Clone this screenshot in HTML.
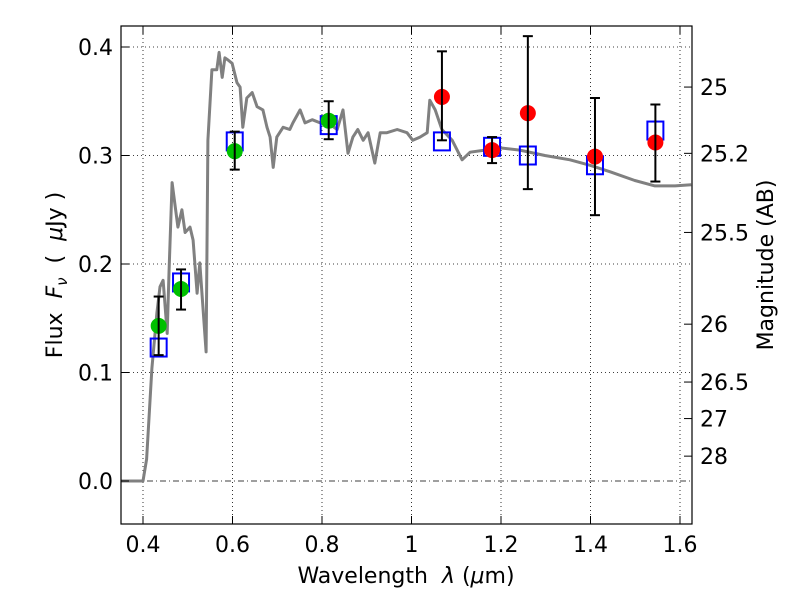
<!DOCTYPE html>
<html><head><meta charset="utf-8"><style>
html,body{margin:0;padding:0;background:#fff}
svg text{font-family:"DejaVu Sans","Liberation Sans",sans-serif;fill:#000}
</style></head><body>
<svg id="chart" width="800" height="600" viewBox="0 0 800 600">
<g id="grid"></g>
<g id="spec"></g>
<g id="marks"></g>
<rect x="121" y="26" width="571" height="498" fill="none" stroke="#000" stroke-width="1.2"/>
<g id="axes"></g>
<text x="406" y="583" font-size="22" text-anchor="middle" xml:space="preserve">Wavelength  <tspan font-style="italic">λ</tspan> (<tspan font-style="italic">μ</tspan>m)</text>
<text transform="translate(62,275) rotate(-90)" font-size="22" text-anchor="middle" xml:space="preserve">Flux  <tspan font-style="italic">F</tspan><tspan font-style="italic" font-size="15" dy="5">ν</tspan><tspan dy="-5">  (  </tspan><tspan font-style="italic">μ</tspan>Jy )</text>
<text transform="translate(773,265) rotate(-90)" font-size="22" text-anchor="middle">Magnitude (AB)</text>
</svg>
<script>
const specX=[0.351,0.400,0.408,0.420,0.431,0.438,0.445,0.454,0.458,0.465,0.472,0.478,0.487,0.494,0.505,0.512,0.521,0.527,0.541,0.545,0.554,0.565,0.570,0.577,0.583,0.590,0.599,0.610,0.617,0.623,0.632,0.644,0.655,0.668,0.677,0.684,0.691,0.699,0.713,0.728,0.735,0.751,0.762,0.778,0.796,0.813,0.834,0.847,0.858,0.869,0.880,0.892,0.903,0.918,0.930,0.945,0.968,0.990,1.003,1.019,1.035,1.041,1.053,1.068,1.091,1.113,1.131,1.164,1.198,1.242,1.298,1.354,1.399,1.444,1.499,1.544,1.589,1.625];
const specY=[0,0,0.02,0.104,0.155,0.179,0.185,0.136,0.192,0.275,0.253,0.234,0.250,0.229,0.234,0.222,0.173,0.201,0.119,0.314,0.379,0.379,0.395,0.372,0.390,0.388,0.385,0.367,0.363,0.326,0.353,0.358,0.345,0.342,0.326,0.317,0.289,0.317,0.326,0.324,0.330,0.342,0.330,0.333,0.330,0.330,0.324,0.342,0.302,0.317,0.324,0.314,0.321,0.293,0.321,0.321,0.324,0.321,0.314,0.317,0.321,0.351,0.342,0.324,0.314,0.296,0.303,0.305,0.307,0.305,0.300,0.296,0.291,0.285,0.277,0.272,0.272,0.273];
const greenX=[0.435,0.485,0.605,0.815];
const greenY=[0.143,0.177,0.304,0.332];
const greenLo=[0.116,0.158,0.287,0.315];
const greenHi=[0.170,0.195,0.322,0.350];
const redX=[1.068,1.18,1.26,1.41,1.545];
const redY=[0.354,0.305,0.339,0.299,0.312];
const redLo=[0.314,0.293,0.269,0.245,0.276];
const redHi=[0.396,0.317,0.410,0.353,0.347];
const modelX=[0.435,0.485,0.605,0.815,1.068,1.18,1.26,1.41,1.545];
const modelY=[0.123,0.183,0.313,0.328,0.313,0.308,0.300,0.291,0.323];
const xTicks=[0.4,0.6,0.8,1.0,1.2,1.4,1.6];
const xTickLabels=["0.4","0.6","0.8","1","1.2","1.4","1.6"];
const yTicks=[0.0,0.1,0.2,0.3,0.4];
const yTickLabels=["0.0","0.1","0.2","0.3","0.4"];
const magTicks=[25,25.2,25.5,26,26.5,27,28];
const magTickLabels=["25","25.2","25.5","26","26.5","27","28"];

const NS="http://www.w3.org/2000/svg";
const X=v=>143+(v-0.4)*447.5;
const Y=v=>481-v*1085;
const magToY=m=>Y(Math.pow(10,(23.9-m)/2.5));
function mk(tag,attrs,parent){const e=document.createElementNS(NS,tag);for(const k in attrs)e.setAttribute(k,attrs[k]);parent.appendChild(e);return e;}
const grid=document.getElementById('grid'),axes=document.getElementById('axes'),spec=document.getElementById('spec'),marks=document.getElementById('marks');

xTicks.forEach((t,i)=>{
  const l=mk('line',{x1:X(t),x2:X(t),y1:26,y2:524,stroke:'#000','stroke-width':0.8,'stroke-dasharray':'1,3'},grid);
  
  
  const a=mk('line',{x1:X(t),x2:X(t),y1:524,y2:516,stroke:'#000','stroke-width':1},axes);
  
  
  const b=mk('line',{x1:X(t),x2:X(t),y1:26,y2:34,stroke:'#000','stroke-width':1},axes);
  
  
  const tx=mk('text',{x:X(t),y:552,'font-size':22,'text-anchor':'middle'},axes);
  tx.textContent=xTickLabels[i];
  
  
});
yTicks.forEach((t,i)=>{
  const l=mk('line',{x1:121,x2:692,y1:Y(t),y2:Y(t),stroke:'#000','stroke-width':0.8,'stroke-dasharray':t===0?'6,3,1,3':'1,3'},grid);
  
  
  const a=mk('line',{x1:121,x2:129,y1:Y(t),y2:Y(t),stroke:'#000','stroke-width':1},axes);
  
  
  const tx=mk('text',{x:113,y:Y(t)+8,'font-size':22,'text-anchor':'end'},axes);
  tx.textContent=yTickLabels[i];
  
  
});
magTicks.forEach((m,i)=>{
  const y=magToY(m);
  const a=mk('line',{x1:684,x2:692,y1:y,y2:y,stroke:'#000','stroke-width':1},axes);
  
  
  const tx=mk('text',{x:700,y:y+8,'font-size':22,'text-anchor':'start'},axes);
  tx.textContent=magTickLabels[i];
  
  
});
const pts=specX.map((x,i)=>X(x).toFixed(1)+','+Y(specY[i]).toFixed(1)).join(' ');
const pl=mk('polyline',{points:pts,fill:'none',stroke:'#808080','stroke-width':3,'stroke-linejoin':'round'},spec);



modelX.forEach((x,i)=>{
  const r=mk('rect',{x:X(x)-8,y:Y(modelY[i])-9,width:16,height:18,fill:'none',stroke:'#0000ff','stroke-width':2},marks);
  
  
});
function series(xs,ys,lo,hi,color,name){
  xs.forEach((x,i)=>{
    const cx=X(x);
    const g=mk('g',{},marks);
    
    
    mk('circle',{cx:cx,cy:Y(ys[i]),r:8,fill:color},g);
    mk('line',{x1:cx,x2:cx,y1:Y(lo[i]),y2:Y(hi[i]),stroke:'#000','stroke-width':2},g);
    mk('line',{x1:cx-5,x2:cx+5,y1:Y(lo[i]),y2:Y(lo[i]),stroke:'#000','stroke-width':2},g);
    mk('line',{x1:cx-5,x2:cx+5,y1:Y(hi[i]),y2:Y(hi[i]),stroke:'#000','stroke-width':2},g);
  });
}
series(greenX,greenY,greenLo,greenHi,'#00c000','optical');
series(redX,redY,redLo,redHi,'#ff0000','nir');
</script>
</body></html>
